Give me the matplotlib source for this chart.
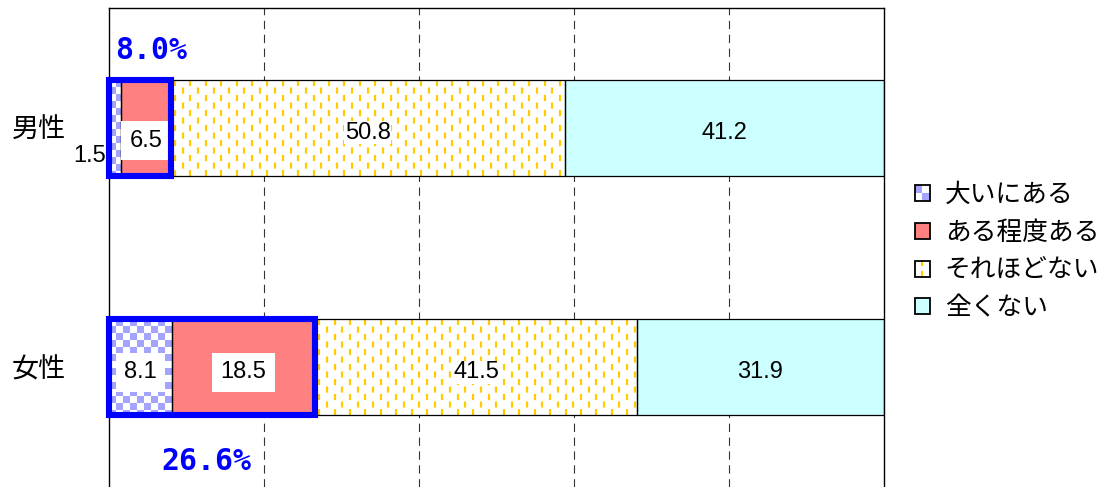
import numpy as np
import matplotlib
matplotlib.use('Agg')
import matplotlib.pyplot as plt
from matplotlib.colors import ListedColormap
from matplotlib.patches import Rectangle
from matplotlib.lines import Line2D
from matplotlib.legend_handler import HandlerBase

plt.rcParams['lines.scale_dashes'] = False

categories = ['男性', '女性']
series_names = ['大いにある', 'ある程度ある', 'それほどない', '全くない']
great = [1.5, 8.1]
somewhat = [6.5, 18.5]
not_much = [50.8, 41.5]
not_at_all = [41.2, 31.9]

series = [great, somewhat, not_much, not_at_all]
kinds = ['checker', 'solid', 'dash', 'solid']
faces = ['white', '#FF8080', 'white', '#CCFFFF']

BLUE = '#0000FF'
CHECK_BLUE = '#A4A4FF'
YELLOW = '#FFCC00'
JP = 'Noto Sans CJK JP'
NUM = 'Liberation Sans'

fig = plt.figure(figsize=(11.12, 4.87), dpi=100)
ax = fig.add_axes([109 / 1112, 0, 775 / 1112, 479 / 487])

y = np.arange(len(categories))
h = 0.4
# pixel sizes in data units (x: 7.75 px per %, y: 239.5 px per unit)
px_x = 100 / 775
px_y = 2.0 / 479

left = np.zeros(len(categories))
for vals, kind, face in zip(series, kinds, faces):
    vals = np.array(vals)
    bars = ax.barh(y, vals, left=left, height=h, color=face, edgecolor='none', zorder=2)
    for yi, l, w, bar in zip(y, left, vals, bars):
        if kind == 'checker':
            cx, cy = 7 * px_x, 7 * px_y
            nc, nr = int(np.ceil(w / cx)), int(np.ceil(h / cy))
            ii, jj = np.indices((nr, nc))
            im = ax.imshow((ii + jj) % 2, cmap=ListedColormap(['white', CHECK_BLUE]),
                           extent=(l, l + nc * cx, yi - h / 2 + nr * cy, yi - h / 2),
                           interpolation='nearest', aspect='auto', zorder=2.5)
            im.set_clip_path(bar)
        elif kind == 'dash':
            xs = np.arange(l + 4 * px_x, l + w, 7.7 * px_x)
            styles = [(0 if k % 2 == 0 else 5.4, (4.4, 6.4)) for k in range(len(xs))]
            lc = ax.vlines(xs, yi - h / 2, yi + h / 2, colors=YELLOW, linewidth=1.6,
                           linestyles=styles, zorder=2.5)
            lc.set_clip_path(bar)
    ax.barh(y, vals, left=left, height=h, fill=False, edgecolor='black', linewidth=0.9, zorder=4)

    for yi, l, w in zip(y, left, vals):
        txt = f'{w:.1f}'
        if kind == 'checker' and w < 3:
            ax.text(l - 0.4, yi + 0.117, txt, ha='right', va='center', fontsize=17,
                    family=NUM, zorder=6, clip_on=False)
            continue
        ty = yi + 0.02
        if kind == 'solid' and face == '#FF8080' and w < 10:
            ty = yi + 0.055
        bbox = None
        if kind in ('checker', 'solid') and face != '#CCFFFF':
            bbox = dict(boxstyle='square,pad=0.36', facecolor='white', edgecolor='none')
        elif kind == 'dash':
            bbox = dict(boxstyle='square,pad=0.02', facecolor='white', edgecolor='none')
        ax.text(l + w / 2, ty, txt, ha='center', va='center', fontsize=17, family=NUM,
                bbox=bbox, zorder=6)
    left = left + vals

# highlight boxes around the first two segments
totals = np.array(great) + np.array(somewhat)
label_pos = [(0.75, -0.322), (6.75, 1.395)]
for yi, tot, (tx, ty) in zip(y, totals, label_pos):
    ax.add_patch(Rectangle((0, yi - h / 2), tot, h, fill=False, edgecolor=BLUE,
                           linewidth=4.4, joinstyle='miter', zorder=7, clip_on=False))
    ax.text(tx, ty, f'{tot:.1f}%', ha='left', va='center', color=BLUE, fontsize=21.5,
            family='DejaVu Sans Mono', fontweight='bold', zorder=7)

ax.set_xlim(0, 100)
ax.set_ylim(1.5, -0.5)
ax.set_xticks([20, 40, 60, 80])
ax.xaxis.grid(True, linestyle=(0, (6, 4)), color='#333333', linewidth=0.8, zorder=1)
ax.set_axisbelow(True)
ax.tick_params(axis='x', length=0, labelbottom=False)
ax.set_yticks(y, categories)
ax.tick_params(axis='y', length=0, pad=31, labelsize=19.5)
for lab in ax.get_yticklabels():
    lab.set_family(JP)
for s in ['left', 'top', 'right']:
    ax.spines[s].set_linewidth(1.0)
ax.spines['bottom'].set_visible(False)


class SwatchHandler(HandlerBase):
    def __init__(self, kind):
        super().__init__()
        self.kind = kind

    def create_artists(self, legend, orig_handle, xdescent, ydescent, width, height, fontsize, trans):
        x0, y0 = -xdescent, -ydescent
        arts = [Rectangle((x0, y0), width, height, facecolor=orig_handle.get_facecolor(),
                          edgecolor='none', transform=trans)]
        if self.kind == 'checker':
            arts.append(Rectangle((x0, y0 + height / 2), width / 2, height / 2,
                                  facecolor=CHECK_BLUE, edgecolor='none', transform=trans))
            arts.append(Rectangle((x0 + width / 2, y0), width / 2, height / 2,
                                  facecolor=CHECK_BLUE, edgecolor='none', transform=trans))
        elif self.kind == 'dash':
            for a, b in [(0.0, 0.3), (0.7, 1.0)]:
                arts.append(Line2D([x0 + width / 2] * 2, [y0 + a * height, y0 + b * height],
                                   color=YELLOW, linewidth=1.5, transform=trans))
        arts.append(Rectangle((x0, y0), width, height, fill=False, edgecolor='black',
                              linewidth=1.3, transform=trans))
        return arts


handles = [Rectangle((0, 0), 1, 1, facecolor=f) for f in faces]
leg = fig.legend(handles, series_names,
                 handler_map={hd: SwatchHandler(k) for hd, k in zip(handles, kinds)},
                 loc='upper left', bbox_to_anchor=(915 / 1112, 1 - 182 / 487),
                 frameon=False, borderpad=0, borderaxespad=0,
                 handlelength=0.58, handleheight=0.58, handletextpad=0.58,
                 labelspacing=0.46, prop={'family': JP, 'size': 18.5})

fig.savefig('out.png', dpi=100)
